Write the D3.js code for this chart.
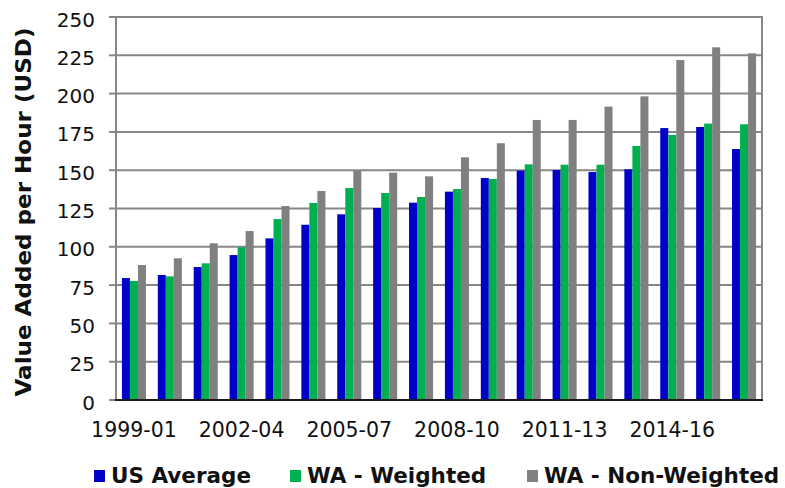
<!DOCTYPE html>
<html>
<head>
<meta charset="utf-8">
<script src="https://cdn.jsdelivr.net/npm/d3@7"></script>
<style>
  html, body { margin: 0; padding: 0; background: #fff; }
  svg { display: block; }
</style>
</head>
<body>
<svg id="chart" width="785" height="488"></svg>
<script>
const categories = ["1999-01","2000-02","2001-03","2002-04","2003-05","2004-06","2005-07","2006-08","2007-09","2008-10","2009-11","2010-12","2011-13","2012-14","2013-15","2014-16","2015-17","2016-18"];
const usAverage     = [79.6, 81.6, 86.8, 94.6, 105.5, 114.4, 121.2, 125.3, 128.8, 136.0, 144.9, 149.7, 150.1, 148.8, 150.6, 177.5, 178.2, 163.8];
const waWeighted    = [77.7, 80.7, 89.2, 99.7, 118.1, 128.6, 138.4, 135.1, 132.5, 137.7, 144.3, 153.8, 153.6, 153.6, 165.8, 173.0, 180.4, 180.0];
const waNonWeighted = [88.1, 92.5, 102.3, 110.3, 126.6, 136.4, 149.5, 148.4, 146.0, 158.4, 167.6, 182.8, 182.8, 191.5, 198.2, 221.9, 230.2, 226.3];
const seriesNames = ["US Average", "WA - Weighted", "WA - Non-Weighted"];
const seriesColors = ["#0000C8", "#00B050", "#808080"];
const yTicks = [0, 25, 50, 75, 100, 125, 150, 175, 200, 225, 250];
const xTickLabels = ["1999-01","2002-04","2005-07","2008-10","2011-13","2014-16"];
const yTitle = "Value Added per Hour (USD)";

const seriesValues = [usAverage, waWeighted, waNonWeighted];
const svg = d3.select("#chart");
const L = 116, R = 762, T = 17, B = 400;

const x = d3.scaleBand().domain(categories).range([L, R]).paddingInner(0.33).paddingOuter(0.165);
const x1 = d3.scaleBand().domain(d3.range(seriesNames.length)).range([0, x.bandwidth()]);
const y = d3.scaleLinear().domain([0, 250]).range([B, T]);

// gridlines
svg.append("g").selectAll("line").data(yTicks.filter(d => d > 0 && d < 250)).join("line")
  .attr("x1", L).attr("x2", R).attr("y1", d => y(d)).attr("y2", d => y(d))
  .attr("stroke", "#878787").attr("stroke-width", 2);

// tick marks
svg.append("g").selectAll("line").data(yTicks).join("line")
  .attr("x1", L - 7).attr("x2", L).attr("y1", d => y(d)).attr("y2", d => y(d))
  .attr("stroke", "#878787").attr("stroke-width", 2);

// bars
const rows = categories.map((c, i) => ({ c, vals: seriesValues.map(s => s[i]) }));
svg.append("g").selectAll("g").data(rows).join("g")
  .attr("transform", d => `translate(${x(d.c)},0)`)
  .selectAll("rect").data(d => d.vals.map((v, k) => ({ v, k }))).join("rect")
  .attr("x", d => x1(d.k))
  .attr("width", x1.bandwidth())
  .attr("y", d => y(d.v))
  .attr("height", d => y(0) - y(d.v))
  .attr("fill", d => seriesColors[d.k]);

// plot border
svg.append("line").attr("x1", L).attr("x2", R).attr("y1", T).attr("y2", T).attr("stroke", "#878787").attr("stroke-width", 2);
svg.append("line").attr("x1", R).attr("x2", R).attr("y1", T - 1).attr("y2", B).attr("stroke", "#878787").attr("stroke-width", 2);
svg.append("line").attr("x1", L).attr("x2", L).attr("y1", T - 1).attr("y2", B).attr("stroke", "#878787").attr("stroke-width", 2);
svg.append("line").attr("x1", L - 1).attr("x2", R + 1).attr("y1", B).attr("y2", B).attr("stroke", "#1a1a1a").attr("stroke-width", 2);

// y tick labels
svg.append("g").selectAll("text").data(yTicks).join("text")
  .attr("x", 95).attr("y", d => y(d) + 9.5)
  .attr("text-anchor", "end")
  .attr("font-family", "DejaVu Sans, Verdana, sans-serif")
  .attr("font-size", 20).attr("fill", "#111")
  .text(d => d);

// x tick labels
svg.append("g").selectAll("text").data(xTickLabels).join("text")
  .attr("x", d => x(d) + x.bandwidth() / 2).attr("y", 436.5)
  .attr("text-anchor", "middle")
  .attr("font-family", "DejaVu Sans, Verdana, sans-serif")
  .attr("font-size", 20.5).attr("fill", "#111")
  .text(d => d);

// y title
svg.append("text")
  .attr("transform", "translate(31,212) rotate(-90)")
  .attr("text-anchor", "middle")
  .attr("font-family", "DejaVu Sans, Verdana, sans-serif")
  .attr("font-weight", "bold")
  .attr("font-size", 21)
  .attr("textLength", 369).attr("lengthAdjust", "spacingAndGlyphs")
  .attr("fill", "#111")
  .text(yTitle);

// legend
const legendX = [94, 290, 527];
const lg = svg.append("g").selectAll("g").data(seriesNames).join("g")
  .attr("transform", (d, i) => `translate(${legendX[i]},0)`);
lg.append("rect").attr("x", 0).attr("y", 470).attr("width", 11).attr("height", 12)
  .attr("fill", (d, i) => seriesColors[i]);
lg.append("text").attr("x", 17).attr("y", 483)
  .attr("font-family", "DejaVu Sans, Verdana, sans-serif")
  .attr("font-weight", "bold").attr("font-size", 21.5).attr("fill", "#111")
  .text(d => d);
</script>
</body>
</html>
